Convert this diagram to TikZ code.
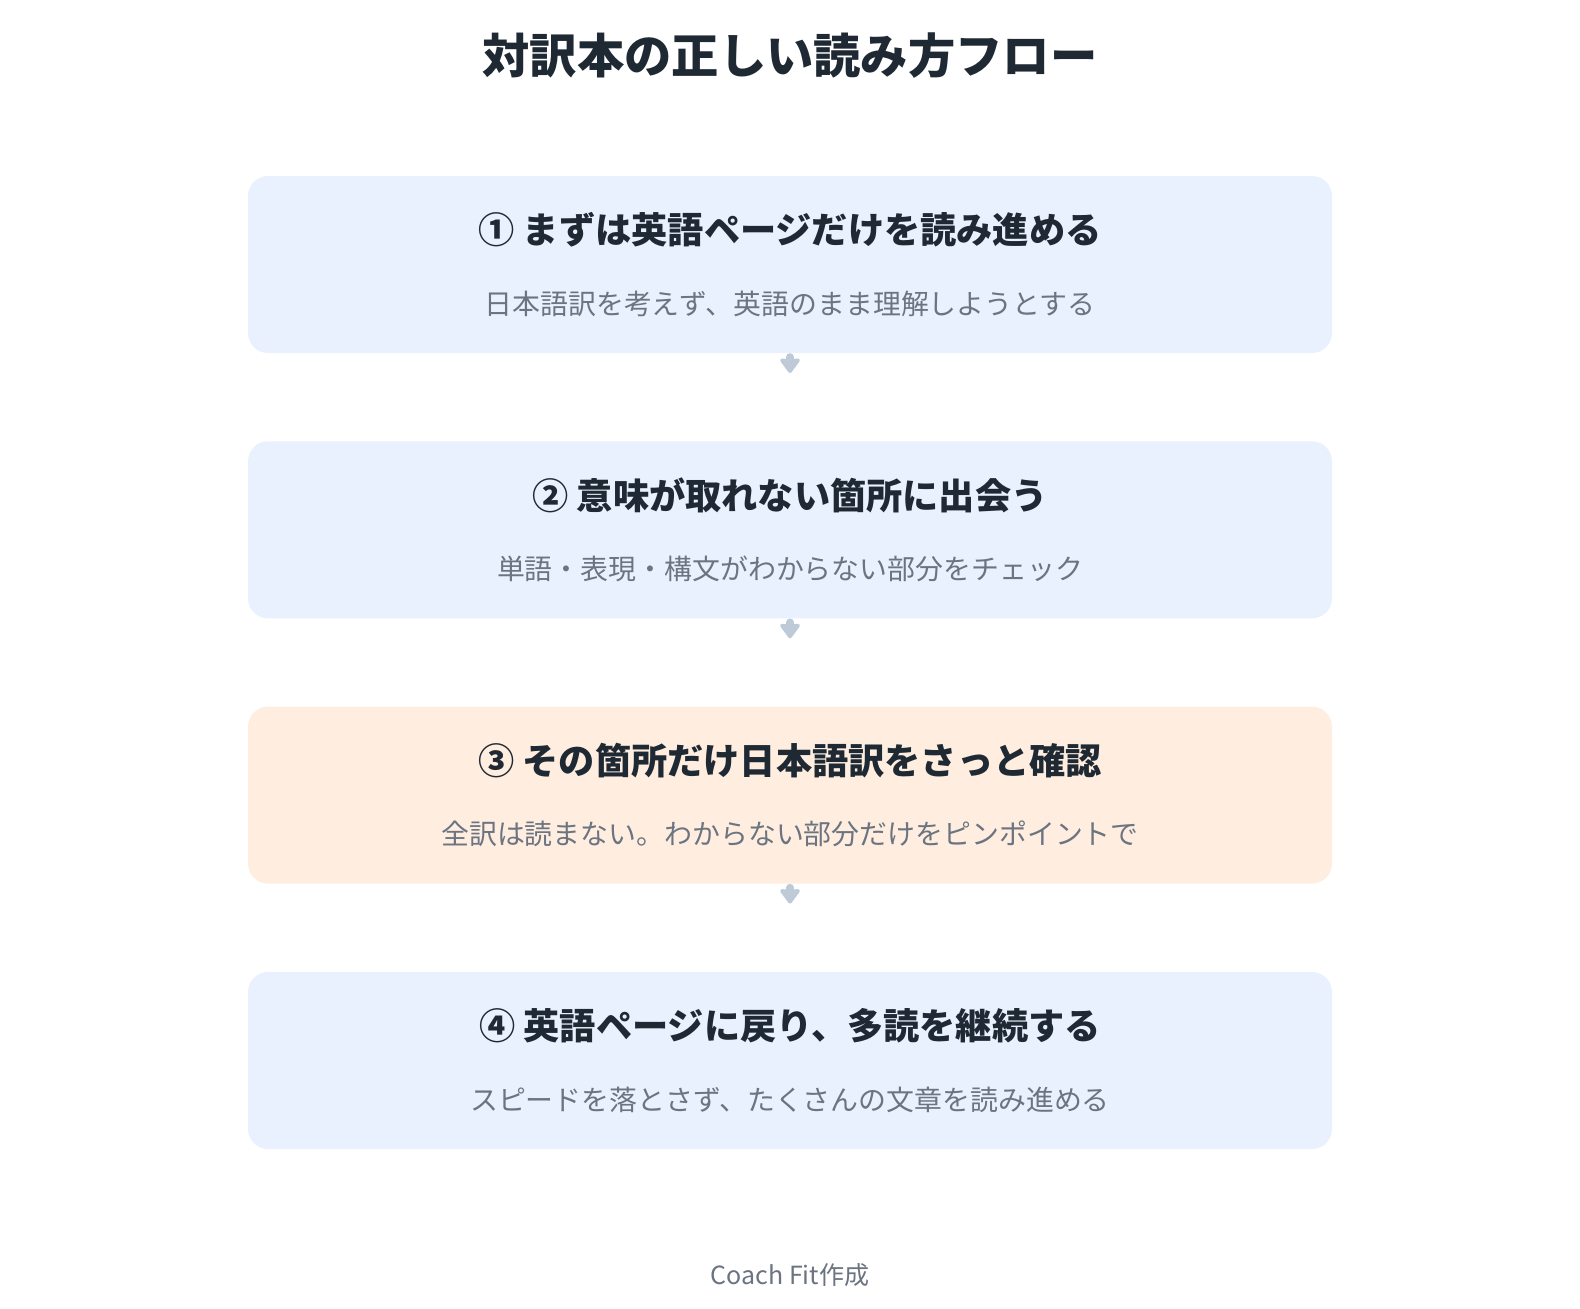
\documentclass[tikz,border=0pt]{standalone}
\usepackage{fontspec}
\setmainfont{Noto Sans CJK JP}
\usetikzlibrary{arrows.meta,calc}
\definecolor{titlecol}{HTML}{1F2933}
\definecolor{subcol}{HTML}{6B7480}
\definecolor{bluebox}{HTML}{EAF1FE}
\definecolor{orangebox}{HTML}{FFEEE0}
\definecolor{arrowcol}{HTML}{BFCAD9}
\tikzset{
  stepbox/.style={rounded corners=20pt, minimum width=1084pt, minimum height=177pt, inner sep=0pt},
  txt/.style={inner sep=0pt, anchor=base},
  headtxt/.style={txt, font=\fontsize{36.2}{42}\selectfont\bfseries, text=titlecol},
  subtxt/.style={txt, font=\fontsize{27.9}{33}\selectfont, text=subcol},
  flowarrow/.style={draw=arrowcol, line width=8pt, line cap=round, -{Stealth[length=16pt,width=23pt,inset=1pt,round]}}
}
\begin{document}
\begin{tikzpicture}[x=1pt,y=-1pt]
\useasboundingbox[fill=white] (0,0) rectangle (1580,1309);
\node[txt, font=\fontsize{47.3}{54}\selectfont\bfseries, text=titlecol] (title) at (790,73.2) {対訳本の正しい読み方フロー};

\node[stepbox, fill=bluebox] (b1) at (790,264.5) {};
\node[headtxt] (h1) at (790,243.9) {① まずは英語ページだけを読み進める};
\node[subtxt] (s1) at (790,314.2) {日本語訳を考えず、英語のまま理解しようとする};

\node[stepbox, fill=bluebox] (b2) at (790,529.8) {};
\node[headtxt] (h2) at (790,509.2) {② 意味が取れない箇所に出会う};
\node[subtxt] (s2) at (790,579.5) {単語・表現・構文がわからない部分をチェック};

\node[stepbox, fill=orangebox] (b3) at (790,795.1) {};
\node[headtxt] (h3) at (790,774.5) {③ その箇所だけ日本語訳をさっと確認};
\node[subtxt] (s3) at (790,844.8) {全訳は読まない。わからない部分だけをピンポイントで};

\node[stepbox, fill=bluebox] (b4) at (790,1060.5) {};
\node[headtxt] (h4) at (790,1039.9) {④ 英語ページに戻り、多読を継続する};
\node[subtxt] (s4) at (790,1110.2) {スピードを落とさず、たくさんの文章を読み進める};

\node[txt, font=\fontsize{25}{30}\selectfont, text=subcol] (foot) at (790,1284.6) {Coach Fit作成};

\coordinate (e1) at (790,373);
\coordinate (e2) at (790,638.3);
\coordinate (e3) at (790,903.6);
\draw[flowarrow] ($(b1.south)+(0,4)$) -- (e1);
\draw[flowarrow] ($(b2.south)+(0,4)$) -- (e2);
\draw[flowarrow] ($(b3.south)+(0,4)$) -- (e3);
\end{tikzpicture}
\end{document}
